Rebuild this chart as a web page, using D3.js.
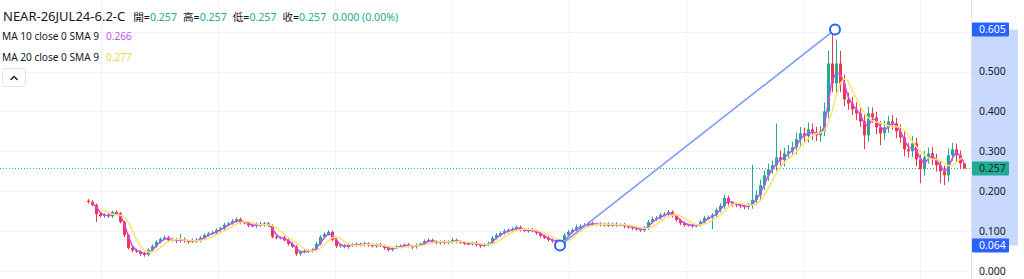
<!DOCTYPE html>
<html>
<head>
<meta charset="utf-8">
<script src="https://cdn.jsdelivr.net/npm/d3@7"></script>
<style>
  body { margin: 0; background: #fff; }
  svg { display: block; font-family: "Noto Sans", "Noto Sans CJK TC", sans-serif; }
</style>
</head>
<body>
<svg id="chart_svg" width="1024" height="279"></svg>
<script>
// candle closes (one candle ~ 4px)
const closes = [
  .173,.166,.143,.138,.141,.137,.148,.145,.123,.090,
  .058,.052,.049,.043,.041,.053,.062,.073,.080,.084,
  .077,.079,.075,.080,.075,.073,.078,.075,.083,.090,
  .094,.096,.103,.107,.116,.119,.125,.130,.122,.121,
  .114,.113,.118,.115,.119,.114,.086,.083,.084,.077,
  .068,.061,.043,.048,.051,.049,.053,.068,.085,.093,
  .098,.078,.063,.064,.060,.066,.064,.068,.065,.069,
  .065,.062,.066,.063,.058,.053,.058,.061,.063,.066,
  .062,.060,.065,.068,.075,.078,.073,.070,.074,.070,
  .073,.078,.073,.071,.069,.068,.071,.065,.063,.066,
  .070,.083,.090,.095,.100,.103,.105,.110,.103,.100,
  .104,.100,.095,.088,.083,.078,.075,.070,.066,.090,
  .098,.103,.110,.113,.115,.120,.117,.118,.115,.118,
  .114,.118,.115,.116,.112,.110,.108,.105,.102,.108,
  .123,.130,.133,.140,.143,.148,.138,.128,.120,.115,
  .116,.112,.115,.123,.133,.135,.140,.153,.163,.183,
  .170,.168,.165,.163,.160,.165,.178,.190,.215,.240,
  .255,.265,.285,.278,.295,.300,.310,.330,.345,.338,
  .355,.345,.340,.350,.400,.520,.470,.520,.470,.430,
  .420,.405,.395,.375,.340,.395,.385,.360,.345,.360,
  .375,.370,.350,.335,.305,.300,.320,.280,.255,.285,
  .295,.280,.265,.250,.240,.290,.305,.290,.270,.257
]
const firstOpen = 0.176

// wick length above / below the body, in thousandths
const wickUp = [
  4,5,3,5,4,5,3,4,3,3, 3,3,4,3,5,4,5,4,4,5, 4,5,4,13,4,3,4,4,5,4,
  4,5,4,4,5,4,5,4,4,3, 4,5,4,5,4,4,3,4,3,4, 3,4,4,3,4,3,4,5,5,4,
  5,3,4,3,4,4,3,4,3,4, 3,4,3,4,3,4,3,4,4,3, 4,3,4,3,4,4,3,4,3,4,
  4,5,3,4,3,4,3,4,3,4, 4,4,5,4,5,4,5,5,4,4, 4,4,3,4,3,4,3,4,4,5,
  5,4,6,4,5,4,4,3,4,3, 4,3,4,3,4,3,4,3,4,5, 5,6,5,6,5,5,4,4,3,4,
  3,4,3,5,5,4,5,6,7,9, 6,5,4,5,4,5,88,12,14,12, 14,12,85,16,14,16,14,17,16,14,
  17,14,16,14,22,32,85,60,32,22, 17,16,18,14,17,16,15,14,16,17,
  14,16,14,17,14,16,18,14,12,16, 14,16,14,12,14,17,16,14,12,0
]
const wickDn = [
  4,4,20,4,5,4,4,5,4,5, 4,5,4,5,5,4,3,4,4,3, 4,3,5,4,4,5,3,4,3,4,
  4,3,4,5,4,4,3,4,5,4, 4,3,5,4,4,3,4,4,4,3, 4,3,5,4,4,4,3,4,4,3,
  4,4,5,4,3,4,4,3,4,3, 4,3,4,3,5,4,4,3,4,4, 3,5,4,3,4,3,4,3,4,3,
  3,4,4,3,4,3,4,4,5,3, 4,5,4,5,4,4,4,5,4,3, 4,3,4,4,3,4,4,5,4,5,
  4,5,4,4,3,4,4,4,3,4, 3,4,4,3,5,4,5,4,4,4, 5,4,5,4,4,5,4,4,5,4,
  4,4,3,4,4,5,30,5,6,7, 6,7,5,6,5,6,9,12,14,12, 14,12,14,14,16,14,12,17,16,14,
  16,17,14,16,12,17,22,27,22,17, 16,14,17,14,35,16,14,17,30,16,
  14,16,17,14,17,16,14,17,35,16, 16,14,16,30,25,16,14,17,14,0
]

const gridPrices = [0, 0.1, 0.2, 0.3, 0.4, 0.5, 0.6]
const axisPrices = [0, 0.1, 0.2, 0.3, 0.4, 0.5]
const timeGrid = [3.25, 32.5, 61.75, 91, 120.25, 149.5, 178.75, 208]
const lastPrice = 0.257
const drawPoints = [{ i: 118, p: 0.064 }, { i: 186.75, p: 0.605 }]

const symbol = "NEAR-26JUL24-6.2-C"
const ohlcNames = ["開", "高", "低", "收"]
const ohlcValues = ["0.257", "0.257", "0.257", "0.257"]
const changeText = "0.000 (0.00%)"
const maNames = ["MA 10 close 0 SMA 9", "MA 20 close 0 SMA 9"]
const maValues = ["0.266", "0.277"]
const maColors = ["#bf55ec", "#f5d63d"]
const maLineColors = ["#c84cf4", "#fbe46c"]
// periods scaled to the 4px candles of this redraw
const maWindows = [[2, 2], [4, 3]]

const up = "#22ab94", down = "#f23645", text = "#131722"

const svg = d3.select("#chart_svg")
const axisLeft = 971

const x = d3.scaleLinear().domain([0, closes.length - 1]).range([88, 964])
const y = d3.scaleLinear().domain([0, 0.6]).range([271, 31.6])

const candles = closes.map((c, i) => {
  const o = i === 0 ? firstOpen : closes[i - 1]
  return {
    i: i, o: o, c: c,
    h: Math.max(o, c) + wickUp[i] / 1000,
    l: Math.min(o, c) - wickDn[i] / 1000,
  }
})

function sma(vals, n) {
  return vals.map((v, i) => i < n - 1 ? null : d3.mean(vals.slice(i - n + 1, i + 1)))
}
function smaSkip(vals, n) {
  return vals.map((v, i) => {
    if (v == null) return null
    const w = vals.slice(Math.max(0, i - n + 1), i + 1).filter((d) => d != null)
    return d3.mean(w)
  })
}

/**
 * Grid
 */
let g_grid = svg.append("g")
g_grid.selectAll(".hgrid").data(gridPrices).enter().append("line")
  .attr("x1", 0).attr("x2", axisLeft)
  .attr("y1", (d) => Math.round(y(d)) + 0.5).attr("y2", (d) => Math.round(y(d)) + 0.5)
  .attr("stroke", "#f0f3fa")
g_grid.selectAll(".vgrid").data(timeGrid).enter().append("line")
  .attr("x1", (d) => Math.round(x(d)) + 0.5).attr("x2", (d) => Math.round(x(d)) + 0.5)
  .attr("y1", 0).attr("y2", 279)
  .attr("stroke", "#f0f3fa")

/**
 * Last price line
 */
svg.append("line")
  .attr("x1", 0).attr("x2", axisLeft)
  .attr("y1", y(lastPrice)).attr("y2", y(lastPrice))
  .attr("stroke", up).attr("stroke-dasharray", "1 2")

/**
 * Candles
 */
let g_candles = svg.append("g")
let candle = g_candles.selectAll(".candle").data(candles).enter().append("g")
candle.append("line")
  .attr("x1", (d) => Math.round(x(d.i)) + 0.5).attr("x2", (d) => Math.round(x(d.i)) + 0.5)
  .attr("y1", (d) => y(d.h)).attr("y2", (d) => y(d.l))
  .attr("stroke", (d) => d.c >= d.o ? up : down)
candle.append("rect")
  .attr("x", (d) => Math.round(x(d.i)) - 1)
  .attr("width", 3)
  .attr("y", (d) => y(Math.max(d.o, d.c)))
  .attr("height", (d) => Math.max(1, y(Math.min(d.o, d.c)) - y(Math.max(d.o, d.c))))
  .attr("fill", (d) => d.c >= d.o ? up : down)

/**
 * Moving averages
 */
maWindows.forEach((w, k) => {
  const ma = smaSkip(sma(closes, w[0]), w[1])
  const line = d3.line()
    .defined((d) => d != null)
    .x((d, i) => x(i))
    .y((d) => y(d))
  svg.append("path")
    .datum(ma)
    .attr("d", line)
    .attr("fill", "none")
    .attr("stroke", maLineColors[k])
    .attr("stroke-width", 1.5)
})

/**
 * Trend line drawing
 */
svg.append("line")
  .attr("x1", x(drawPoints[0].i)).attr("y1", y(drawPoints[0].p))
  .attr("x2", x(drawPoints[1].i)).attr("y2", y(drawPoints[1].p))
  .attr("stroke", "#7b9bf7").attr("stroke-width", 1.6)
svg.selectAll(".anchor").data(drawPoints).enter().append("circle")
  .attr("cx", (d) => x(d.i)).attr("cy", (d) => y(d.p))
  .attr("r", 5)
  .attr("fill", "#fff").attr("stroke", "#2962ff").attr("stroke-width", 2)

/**
 * Price axis
 */
svg.append("rect").attr("x", axisLeft).attr("y", 0).attr("width", 1024 - axisLeft).attr("height", 279).attr("fill", "#fff")
svg.append("line").attr("x1", axisLeft + 0.5).attr("x2", axisLeft + 0.5).attr("y1", 0).attr("y2", 279).attr("stroke", "#e0e3eb")
svg.append("rect")
  .attr("x", axisLeft + 1).attr("width", 46)
  .attr("y", y(drawPoints[1].p)).attr("height", y(drawPoints[0].p) - y(drawPoints[1].p))
  .attr("fill", "#2962ff").attr("opacity", 0.25)

let g_axis = svg.append("g").attr("transform", `translate(${axisLeft + 8},0)`)
g_axis.call(d3.axisRight(y).tickValues(axisPrices).tickSize(0).tickPadding(0).tickFormat(d3.format(".3f")))
g_axis.select(".domain").remove()
g_axis.selectAll("text").attr("font-size", 10.5).attr("fill", text).attr("font-family", "Noto Sans")

const badges = [
  { p: drawPoints[1].p, fill: "#2962ff", color: "#fff" },
  { p: lastPrice, fill: up, color: "#10332c" },
  { p: drawPoints[0].p, fill: "#2962ff", color: "#fff" },
]
let badge = svg.selectAll(".badge").data(badges).enter().append("g")
badge.append("rect")
  .attr("x", axisLeft + 1).attr("width", 37)
  .attr("y", (d) => y(d.p) - 7).attr("height", 14)
  .attr("rx", 1)
  .attr("fill", (d) => d.fill)
badge.append("text")
  .attr("x", axisLeft + 8).attr("y", (d) => y(d.p) + 3.8)
  .attr("font-size", 10.5).attr("fill", (d) => d.color)
  .text((d) => d3.format(".3f")(d.p))

/**
 * Legend
 */
let head = svg.append("text").attr("x", 3).attr("y", 21)
head.append("tspan").attr("font-size", 13).attr("fill", text).text(symbol)
ohlcNames.forEach((n, k) => {
  head.append("tspan").attr("dx", k === 0 ? 8 : 6).attr("font-size", 10.6).attr("fill", text).text(n + "=")
  head.append("tspan").attr("font-size", 10.6).attr("fill", up).text(ohlcValues[k])
})
head.append("tspan").attr("dx", 6).attr("font-size", 10.6).attr("fill", up).text(changeText)

maNames.forEach((n, k) => {
  let t = svg.append("text").attr("x", 2).attr("y", 40 + k * 20.5).attr("font-size", 10.1)
  t.append("tspan").attr("fill", text).text(n)
  t.append("tspan").attr("dx", 7).attr("fill", maColors[k]).text(maValues[k])
})

svg.append("rect").attr("x", 2.5).attr("y", 68.5).attr("width", 23).attr("height", 18).attr("rx", 3)
  .attr("fill", "#fff").attr("stroke", "#e0e3eb")
svg.append("path").attr("d", "M10.5 80 L14 76.5 L17.5 80").attr("fill", "none").attr("stroke", text).attr("stroke-width", 1.3)
</script>
</body>
</html>
